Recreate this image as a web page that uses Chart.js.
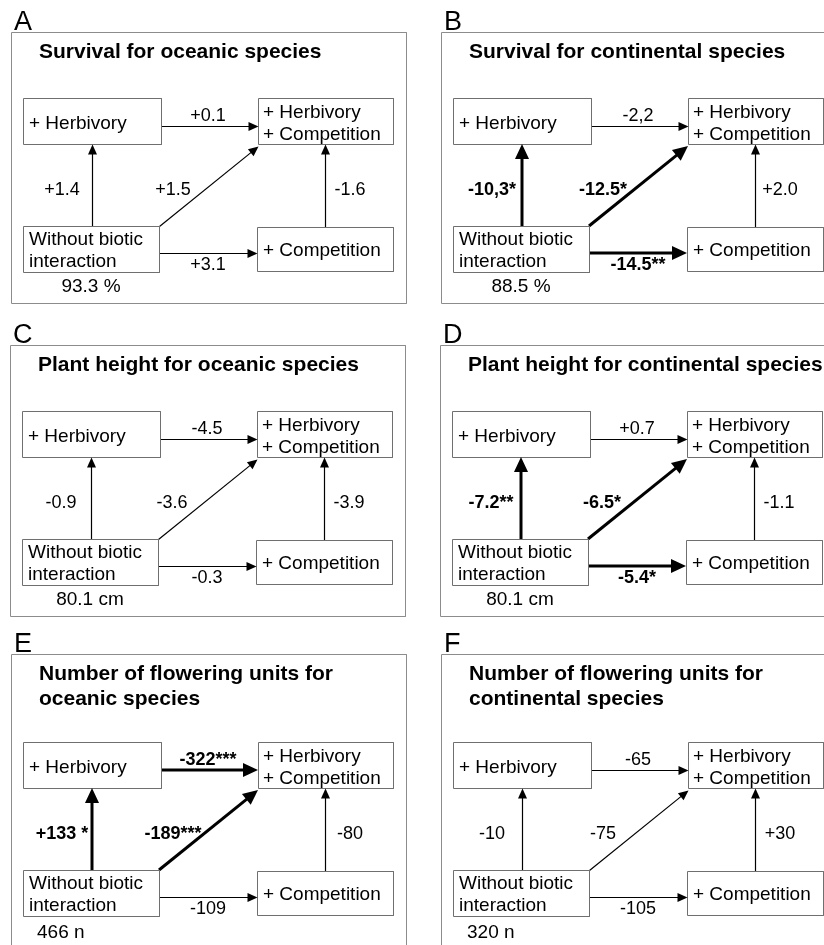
<!DOCTYPE html>
<html>
<head>
<meta charset="utf-8">
<script src="https://cdn.jsdelivr.net/npm/chart.js@4.4.1/dist/chart.umd.min.js"></script>
<style>
  html, body { margin: 0; padding: 0; background: #fff; }
  #wrap { width: 824px; height: 945px; }
</style>
</head>
<body>
<div id="wrap"><canvas id="fig" width="824" height="945"></canvas></div>
<script>
// ---------------- data ----------------
const panelLetters = ['A', 'B', 'C', 'D', 'E', 'F'];
const panelTitles = [
  ['Survival for oceanic species'],
  ['Survival for continental species'],
  ['Plant height for oceanic species'],
  ['Plant height for continental species'],
  ['Number of flowering units for', 'oceanic species'],
  ['Number of flowering units for', 'continental species']
];
const controlValues = ['93.3 %', '88.5 %', '80.1 cm', '80.1 cm', '466 n', '320 n'];
const nodeText = {
  herb: ['+ Herbivory'],
  both: ['+ Herbivory', '+ Competition'],
  base: ['Without biotic', 'interaction'],
  comp: ['+ Competition']
};
// effect along each arrow, one entry per panel (a * marks a significant one, drawn bold)
const baseToHerb = ['+1.4', '-10,3*', '-0.9', '-7.2**', '+133 *', '-10'];
const herbToBoth = ['+0.1', '-2,2', '-4.5', '+0.7', '-322***', '-65'];
const baseToBoth = ['+1.5', '-12.5*', '-3.6', '-6.5*', '-189***', '-75'];
const compToBoth = ['-1.6', '+2.0', '-3.9', '-1.1', '-80', '+30'];
const baseToComp = ['+3.1', '-14.5**', '-0.3', '-5.4*', '-109', '-105'];

// ---------------- layout (diagram units) ----------------
const W = 824, H = 945;
const PANEL_W = 395, PANEL_H = 271;
const panels = [
  { ox: 11, oy: 32, shift: 0, valueAlign: 'center' },
  { ox: 441, oy: 32, shift: 0, valueAlign: 'center' },
  { ox: 10, oy: 345, shift: 0, valueAlign: 'center' },
  { ox: 440, oy: 345, shift: 0, valueAlign: 'center' },
  { ox: 11, oy: 654, shift: 22, valueAlign: 'left' },
  { ox: 441, oy: 654, shift: 22, valueAlign: 'left' }
];
const boxes = {
  herb: [12, 66, 150, 112],
  both: [247, 66, 382, 112],
  base: [12, 194, 148, 240],
  comp: [246, 195, 382, 239]
};
const textInset = { herb: [6, [31]], both: [5, [20, 42]], base: [6, [19, 41]], comp: [6, [29]] };
const arrows = [
  { vals: baseToHerb, from: [81, 194], to: [81, 112], label: [51, 163] },
  { vals: herbToBoth, from: [150, 94], to: [247, 94], label: [197, 89] },
  { vals: baseToBoth, from: [148, 194], to: [247, 114], label: [162, 163] },
  { vals: compToBoth, from: [314, 195], to: [314, 112], label: [339, 163] },
  { vals: baseToComp, from: [148, 221], to: [246, 221], label: [197, 238] }
];

const FONT = '"Liberation Sans", Arial, Helvetica, sans-serif';
const isSig = s => s.indexOf('*') >= 0;
const headLen = sig => sig ? 15 : 10;
const headHalf = sig => sig ? 7 : 4.5;

function pt(p, rx, ry, crisp) {
  const c = crisp ? 0.5 : 0;
  return { x: p.ox + rx + c, y: p.oy + ry + p.shift + c };
}

// ---------------- datasets ----------------
const datasets = [];

panels.forEach(p => {
  const x0 = p.ox + 0.5, y0 = p.oy + 0.5;
  const x1 = p.ox + PANEL_W + 0.5, y1 = p.oy + PANEL_H + p.shift + 0.5;
  datasets.push({
    data: [{ x: x0, y: y0 }, { x: x1, y: y0 }, { x: x1, y: y1 }, { x: x0, y: y1 }, { x: x0, y: y0 }],
    borderColor: '#8c8c8c', borderWidth: 1
  });

  Object.keys(boxes).forEach(k => {
    const b = boxes[k];
    datasets.push({
      data: [pt(p, b[0], b[1], true), pt(p, b[2], b[1], true), pt(p, b[2], b[3], true),
             pt(p, b[0], b[3], true), pt(p, b[0], b[1], true)],
      borderColor: '#6f6f6f', borderWidth: 1
    });
  });
});

panels.forEach((p, i) => {
  arrows.forEach(a => {
    const sig = isSig(a.vals[i]);
    const s = pt(p, a.from[0], a.from[1], !sig);
    const e = pt(p, a.to[0], a.to[1], !sig);
    const dx = e.x - s.x, dy = e.y - s.y, len = Math.hypot(dx, dy);
    const back = headLen(sig) - 1;
    datasets.push({
      data: [s, { x: e.x - dx / len * back, y: e.y - dy / len * back }],
      borderColor: '#000', borderWidth: sig ? 3 : 1.2
    });
  });
});

datasets.forEach(d => {
  d.showLine = true;
  d.fill = false;
  d.pointRadius = 0;
  d.tension = 0;
  d.borderJoinStyle = 'miter';
});

// ---------------- arrowheads and text ----------------
const diagramText = {
  id: 'diagramText',
  afterDatasetsDraw(chart) {
    const { ctx, scales: { x, y } } = chart;
    const px = v => x.getPixelForValue(v);
    const py = v => y.getPixelForValue(v);
    ctx.save();
    ctx.fillStyle = '#000';
    ctx.textBaseline = 'alphabetic';

    panels.forEach((p, i) => {
      // arrowheads
      arrows.forEach(a => {
        const sig = isSig(a.vals[i]);
        const s = pt(p, a.from[0], a.from[1], !sig);
        const e = pt(p, a.to[0], a.to[1], !sig);
        const sx = px(s.x), sy = py(s.y), ex = px(e.x), ey = py(e.y);
        const len = Math.hypot(ex - sx, ey - sy);
        const ux = (ex - sx) / len, uy = (ey - sy) / len;
        const L = headLen(sig), hw = headHalf(sig);
        ctx.beginPath();
        ctx.moveTo(ex, ey);
        ctx.lineTo(ex - ux * L - uy * hw, ey - uy * L + ux * hw);
        ctx.lineTo(ex - ux * L + uy * hw, ey - uy * L - ux * hw);
        ctx.closePath();
        ctx.fill();

        // effect label
        const lp = pt(p, a.label[0], a.label[1]);
        ctx.font = (sig ? 'bold ' : '') + '18px ' + FONT;
        ctx.textAlign = 'center';
        ctx.fillText(a.vals[i], px(lp.x), py(lp.y));
      });

      // panel letter
      ctx.textAlign = 'left';
      ctx.font = '27px ' + FONT;
      ctx.fillText(panelLetters[i], px(p.ox + 3), py(p.oy - 2));

      // title
      ctx.font = 'bold 21px ' + FONT;
      panelTitles[i].forEach((line, j) => {
        ctx.fillText(line, px(p.ox + 28), py(p.oy + 26 + j * 25));
      });

      // node text
      ctx.font = '19px ' + FONT;
      Object.keys(boxes).forEach(k => {
        const b = boxes[k], t = textInset[k];
        nodeText[k].forEach((line, j) => {
          const q = pt(p, b[0] + t[0], b[1] + t[1][j]);
          ctx.fillText(line, px(q.x), py(q.y));
        });
      });

      // control value under the baseline box
      const b = boxes.base;
      if (p.valueAlign === 'center') {
        ctx.textAlign = 'center';
        const q = pt(p, (b[0] + b[2]) / 2, 260);
        ctx.fillText(controlValues[i], px(q.x), py(q.y));
      } else {
        ctx.textAlign = 'left';
        const q = pt(p, b[0] + 14, 262);
        ctx.fillText(controlValues[i], px(q.x), py(q.y));
      }
    });
    ctx.restore();
  }
};

new Chart(document.getElementById('fig').getContext('2d'), {
  type: 'scatter',
  data: { datasets: datasets },
  options: {
    responsive: false,
    animation: false,
    devicePixelRatio: 1,
    events: [],
    layout: { padding: 0 },
    scales: {
      x: { type: 'linear', min: 0, max: W, display: false },
      y: { type: 'linear', min: 0, max: H, reverse: true, display: false }
    },
    plugins: {
      legend: { display: false },
      tooltip: { enabled: false }
    }
  },
  plugins: [diagramText]
});
</script>
</body>
</html>
